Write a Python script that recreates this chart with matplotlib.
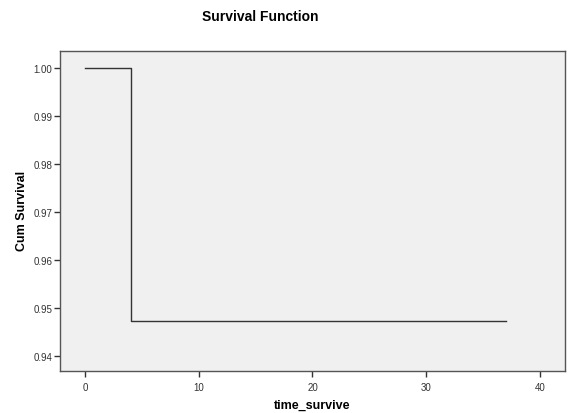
import matplotlib
matplotlib.use("Agg")
import matplotlib.pyplot as plt

# survival step data
times = [0, 4, 37]
survival = [1.0, 0.947368, 0.947368]

x_ticks = [0, 10, 20, 30, 40]
y_ticks = [0.94, 0.95, 0.96, 0.97, 0.98, 0.99, 1.00]

plt.rcParams['font.family'] = ['Liberation Sans', 'DejaVu Sans']

fig = plt.figure(figsize=(5.73, 4.14), dpi=100)
ax = fig.add_axes([60 / 573, 42 / 414, 505 / 573, 320 / 414])
ax.set_facecolor('#f0f0f0')

ax.step(times, survival, where='post', color='#333333', linewidth=1.0)

ax.set_xlim(-2.2, 42.2)
ax.set_ylim(0.93688, 1.00354)
ax.set_xticks(x_ticks)
ax.set_xticklabels([str(t) for t in x_ticks])
ax.set_yticks(y_ticks)
ax.set_yticklabels([f"{v:.2f}" for v in y_ticks])

for side in ['top', 'right', 'left', 'bottom']:
    ax.spines[side].set_color('#555555')
    ax.spines[side].set_linewidth(1.0)

ax.tick_params(axis='both', direction='out', length=4, width=1.0, color='#333333',
               labelsize=7, labelcolor='#333333', pad=1.5)
ax.tick_params(axis='x', pad=4)

# axis titles placed in figure pixels like the SPSS output
fig.text(312 / 573, 1 - 406 / 414, 'time_survive', fontsize=9, fontweight='bold',
         ha='center', va='center')
fig.text(22 / 573, 1 - 211 / 414, 'Cum Survival', fontsize=9, fontweight='bold',
         ha='center', va='center', rotation=90)

fig.text(260 / 573, 1 - 17 / 414, 'Survival Function', fontsize=10, fontweight='bold',
         ha='center', va='center')

fig.savefig('out.png', dpi=100, facecolor='white')
